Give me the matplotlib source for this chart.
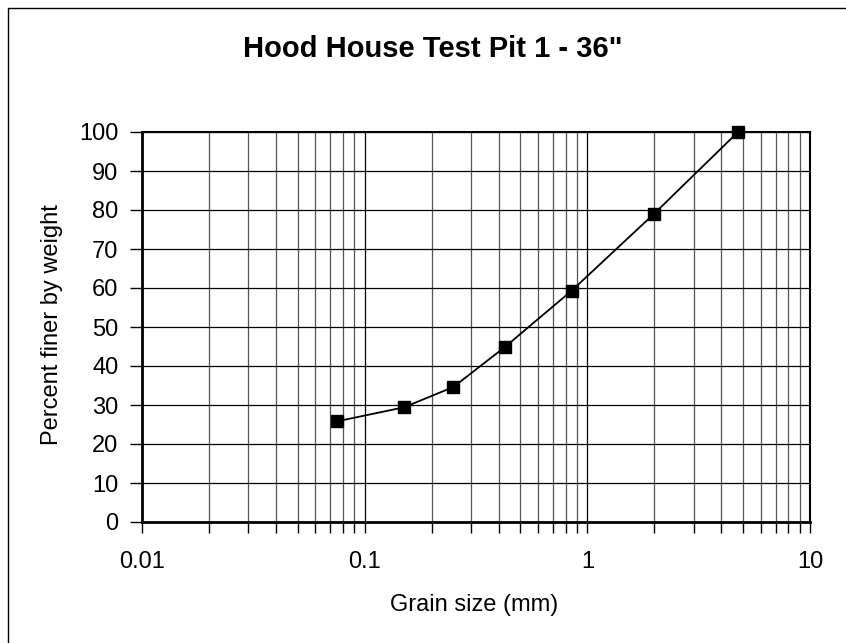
import matplotlib
matplotlib.use("Agg")
import matplotlib.pyplot as plt
from matplotlib.ticker import LogLocator, FixedLocator, NullFormatter, FuncFormatter
from matplotlib.patches import Rectangle

plt.rcParams['font.family'] = ['Liberation Sans', 'DejaVu Sans']

# sieve data
grain_size = [0.075, 0.15, 0.25, 0.425, 0.85, 2.0, 4.75]
percent_finer = [25.8, 29.4, 34.6, 44.8, 59.3, 79.1, 100.0]
y_ticks = [0, 10, 20, 30, 40, 50, 60, 70, 80, 90, 100]
x_ticks = [0.01, 0.1, 1, 10]
x_tick_labels = ["0.01", "0.1", "1", "10"]

fig = plt.figure(figsize=(8.46, 6.43), dpi=100)

# chart border
fig.patches.append(Rectangle((8 / 846, -0.05), 1.1, 1 - 8 / 643 + 0.05,
                             transform=fig.transFigure, fill=False,
                             edgecolor='black', linewidth=1.0))

ax = fig.add_axes([142 / 846, 1 - 522 / 643, 668 / 846, 390 / 643])
ax.set_xscale('log')
ax.set_xlim(0.01, 10)
ax.set_ylim(0, 100)

ax.xaxis.set_major_locator(FixedLocator(x_ticks))
ax.xaxis.set_major_formatter(FuncFormatter(lambda v, p: x_tick_labels[x_ticks.index(v)] if v in x_ticks else ""))
ax.xaxis.set_minor_locator(LogLocator(base=10, subs=range(2, 10)))
ax.xaxis.set_minor_formatter(NullFormatter())
ax.set_yticks(y_ticks)

ax.grid(True, which='major', color='black', linewidth=0.9)
ax.grid(True, which='minor', axis='x', color='#555555', linewidth=0.9)
ax.set_axisbelow(True)

ax.tick_params(axis='both', which='both', direction='out', labelsize=17, width=1.0, color='black')
ax.tick_params(axis='y', length=9, pad=8)
ax.tick_params(axis='x', which='major', length=8, pad=13)
ax.tick_params(axis='x', which='minor', length=8)

for s in ['left', 'bottom']:
    ax.spines[s].set_linewidth(2.0)
for s in ['top', 'right']:
    ax.spines[s].set_linewidth(1.5)

ax.plot(grain_size, percent_finer, color='black', linewidth=1.3,
        marker='s', markersize=8, markerfacecolor='black', clip_on=False, zorder=5)

fig.text(474 / 846, 1 - 605 / 643, "Grain size (mm)", fontsize=17, ha='center', va='center')
fig.text(52 / 846, 1 - 325 / 643, "Percent finer by weight", fontsize=17,
         rotation=90, ha='center', va='center')
fig.text(433 / 846, 1 - 49 / 643, 'Hood House Test Pit 1 - 36"', fontsize=21,
         fontweight='bold', ha='center', va='center')

fig.savefig("out.png", dpi=100)
